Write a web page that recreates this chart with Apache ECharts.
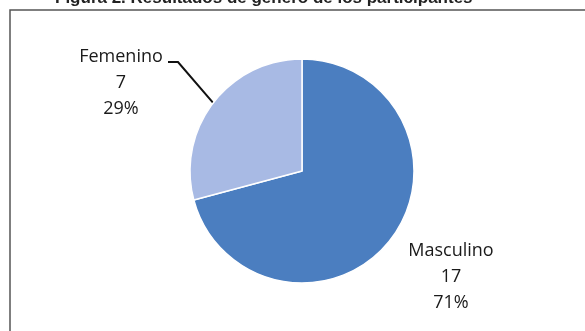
<!DOCTYPE html>
<html>
<head>
<meta charset="utf-8">
<script src="https://cdn.jsdelivr.net/npm/echarts@6/dist/echarts.min.js"></script>
<style>html,body{margin:0;padding:0;background:#fff}#c{width:585px;height:331px}</style>
</head>
<body>
<div id="c"></div>
<script>
const categories = ['Masculino', 'Femenino'];
const counts = [17, 7];
const percentLabels = ['71%', '29%'];
const titleText = 'Figura 2. Resultados de género de los participantes';

const chart = echarts.init(document.getElementById('c'), null, {renderer: 'canvas'});
const data = categories.map((n, i) => ({
  name: n,
  value: counts[i],
  labelLine: {show: i === 1}
}));

chart.setOption({
  animation: false,
  backgroundColor: '#ffffff',
  title: {
    text: titleText,
    left: 50,
    top: -15,
    textStyle: {fontFamily: 'Liberation Sans', fontWeight: 'bold', fontSize: 17, color: '#222'}
  },
  graphic: [{
    type: 'rect',
    shape: {x: 10, y: 10, width: 600, height: 340},
    style: {fill: 'none', stroke: '#555', lineWidth: 1.5},
    silent: true
  }],
  color: ['#4b7ec0', '#a8bae4'],
  series: [{
    type: 'pie',
    center: [302, 171],
    radius: 112,
    startAngle: 90,
    clockwise: true,
    data: data,
    itemStyle: {borderColor: '#ffffff', borderWidth: 1.5},
    label: {
      show: true,
      position: 'outside',
      formatter: p => p.name + '\n' + p.value + '\n' + percentLabels[p.dataIndex],
      fontFamily: 'Open Sans',
      fontSize: 18,
      lineHeight: 26,
      color: '#1a1a1a'
    },
    labelLine: {show: true, length: 30, length2: 10, lineStyle: {color: '#111', width: 2}},
    labelLayout: function (params) {
      const pts = params.labelLinePoints;
      if (params.dataIndex === 1) {
        const s = pts ? pts[0] : [213, 103];
        return {
          x: 121, y: 83, align: 'center', verticalAlign: 'middle',
          labelLinePoints: [s, [178, 62], [168, 62]]
        };
      }
      return {x: 451, y: 277, align: 'center', verticalAlign: 'middle'};
    }
  }]
});
</script>
</body>
</html>
